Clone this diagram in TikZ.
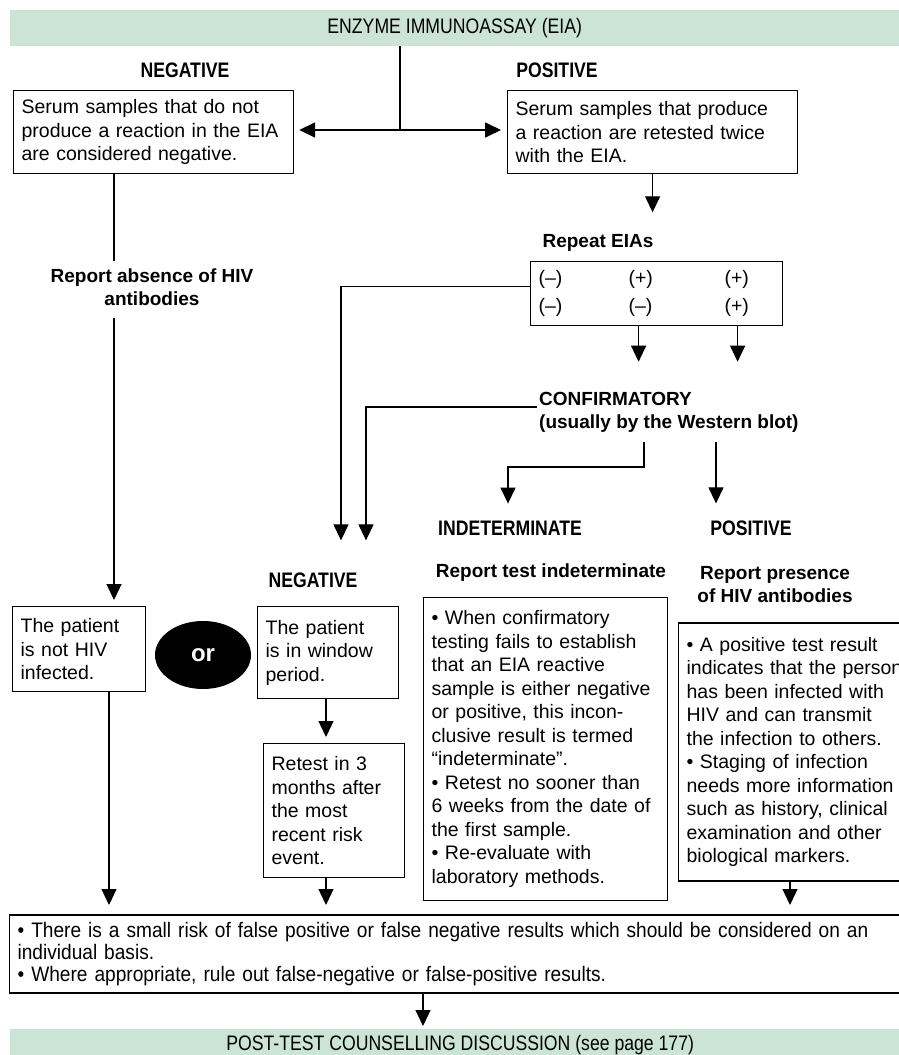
\documentclass[tikz,border=0pt]{standalone}
\usepackage{fontspec}
\setmainfont{Liberation Sans}
\newfontfamily\narrowfont[FakeStretch=0.84]{Liberation Sans}
\newfontfamily\notefont[FakeStretch=0.91]{Liberation Sans}
\usepackage{tikz}
\usetikzlibrary{arrows.meta,shapes.geometric}
\definecolor{barfill}{RGB}{204,228,214}
\tikzset{
  arr/.style={-{Triangle[width=15pt,length=16pt]},line width=1.2pt},
  box/.style={draw,line width=1.2pt,anchor=north west,align=left,inner xsep=8pt,inner ysep=0pt,
    font=\fontsize{19.5}{23.5}\selectfont},
  lab/.style={font=\bfseries\fontsize{19}{23}\selectfont,align=center,inner sep=2pt},
  caps/.style={font=\narrowfont\bfseries\fontsize{21}{23}\selectfont,inner sep=2pt},
  bar/.style={fill=barfill,anchor=north west,inner sep=0pt,font=\narrowfont\fontsize{21}{23}\selectfont},
}
\begin{document}
\begin{tikzpicture}[x=1pt,y=-1pt]
    \useasboundingbox (0,0) rectangle (899,1055);
    \clip (0,0) rectangle (899,1055);
    \node[bar,minimum width=889pt,minimum height=36pt] (eia) at (10,10) {ENZYME IMMUNOASSAY (EIA)};
    \node[caps] (negA) at (185,70) {NEGATIVE};
    \node[caps] (posA) at (557,70) {POSITIVE};
    \node[box,text width=264pt,minimum height=83pt] (negbox) at (13,90)
      {Serum samples that do not\\produce a reaction in the EIA\\are considered negative.};
    \node[box,text width=274pt,minimum height=83pt] (posbox) at (507,90)
      {Serum samples that produce\\a reaction are retested twice\\with the EIA.};
    \coordinate (split) at (400,130);
    \draw[line width=1.2pt] (eia.south -| split) -- (split);
    \draw[arr,line width=1.8pt,shorten >=5pt] (split) -- (negbox.east |- split);
    \draw[arr,line width=1.8pt,shorten >=6pt] (split) -- (posbox.west |- split);

    \node[lab] (repl) at (598,243) {Repeat EIAs};
    \draw[arr,shorten >=20pt] (posbox.south) -- (posbox.south |- repl.north);
    \node[box,text width=236pt,minimum height=64pt] (eiabox) at (530,261)
      {\begin{tabular}{@{}p{78pt}p{84pt}l@{}}(–)&(+)&(+)\\[4.5pt](–)&(–)&(+)\end{tabular}};
    \node[lab,anchor=west,align=left] (conf) at (537,412) {CONFIRMATORY\\(usually by the Western blot)};
    \draw[arr,shorten >=28pt] ([xshift=-18pt]eiabox.south) -- ([xshift=-18pt]eiabox.south |- conf.north);
    \draw[arr,shorten >=28pt] ([xshift=81pt]eiabox.south) -- ([xshift=81pt]eiabox.south |- conf.north);

    \node[lab] (absent) at (152,287) {Report absence of HIV\\antibodies};
    \coordinate (colA) at (114,0);
    \draw[line width=1.2pt,shorten >=5pt] (negbox.south -| colA) -- (colA |- absent.north);

    \node[caps] (negB) at (313,580) {NEGATIVE};
    \node[caps] (indlab) at (510,528) {INDETERMINATE};
    \node[caps] (poslab) at (751,528) {POSITIVE};
    \coordinate (colB) at (341,0);
    \coordinate (colC) at (366,0);
    \draw[arr,shorten >=30pt] ([yshift=7pt]eiabox.west) -| (colB |- negB.north);
    \draw[arr,shorten >=30pt] ([yshift=5pt]conf.west) -| (colC |- negB.north);
    \coordinate (colE) at (644,0);
    \coordinate (colF) at (716,0);
    \coordinate (kink) at (508,467);
    \draw[arr,shorten <=8pt,shorten >=15pt] (conf.south -| colE) |- (kink) -- (kink |- indlab.north);
    \draw[arr,shorten <=8pt,shorten >=15pt] (conf.south -| colF) -- (colF |- poslab.north);

    \node[lab] (repind) at (551,573) {Report test indeterminate};
    \node[lab] (reppos) at (775,585) {Report presence\\of HIV antibodies};

    \node[box,text width=117pt,minimum height=85pt] (notinf) at (12,606) {The patient\\is not HIV\\infected.};
    \draw[arr,shorten <=10pt,shorten >=6pt] (absent.south -| colA) -- (notinf.north -| colA);
    \node[ellipse,fill=black,inner sep=0pt,minimum width=96pt,minimum height=68pt,text=white,
      font=\bfseries\fontsize{24}{26}\selectfont] (orsign) at (203,655) {or};
    \node[box,text width=125pt,minimum height=92pt] (winbox) at (257,606) {The patient\\is in window\\period.};
    \node[box,text width=125pt,minimum height=134pt] (retest) at (263,743)
      {Retest in 3\\months after\\the most\\recent risk\\event.};
    \coordinate (colD) at (326,0);
    \draw[arr,shorten >=6pt] (winbox.south -| colD) -- (retest.north -| colD);

    \node[box,text width=228pt,minimum height=303pt] (indbox) at (423,597)
      {• When confirmatory\\testing fails to establish\\that an EIA reactive\\sample is either negative\\or positive, this incon-\\clusive result is termed\\“indeterminate”.\\• Retest no sooner than\\6 weeks from the date of\\the first sample.\\• Re-evaluate with\\laboratory methods.};
    \node[box,text width=240pt,minimum height=257pt] (posinfo) at (678,623)
      {• A positive test result\\indicates that the person\\has been infected with\\HIV and can transmit\\the infection to others.\\• Staging of infection\\needs more information\\such as history, clinical\\examination and other\\biological markers.};
    \draw[line width=2.4pt] (posinfo.north west) -- (posinfo.north east);
    \draw[line width=2.4pt] (posinfo.south west) -- (posinfo.south east);

    \node[box,text width=884pt,minimum height=77pt,font=\notefont\fontsize{21}{22}\selectfont] (notebox) at (9,915)
      {• There is a small risk of false positive or false negative results which should be considered on an\\individual basis.\\• Where appropriate, rule out false-negative or false-positive results.};
    \draw[line width=2.2pt] (notebox.north west) -- (notebox.north east);
    \draw[line width=2.2pt] (notebox.south west) -- (notebox.south east);
    \coordinate (colA2) at (109,0);
    \coordinate (colG) at (790,0);
    \coordinate (colH) at (423,0);
    \draw[arr,shorten >=10pt] (notinf.south -| colA2) -- (notebox.north -| colA2);
    \draw[arr,shorten >=10pt] (retest.south -| colD) -- (notebox.north -| colD);
    \draw[arr,shorten >=10pt] (posinfo.south -| colG) -- (notebox.north -| colG);

    \node[bar,minimum width=900pt,minimum height=32pt] (postbar) at (10,1029)
      {POST-TEST COUNSELLING DISCUSSION (see page 177)};
    \draw[arr,shorten >=3pt] (notebox.south -| colH) -- (postbar.north -| colH);
\end{tikzpicture}
\end{document}
